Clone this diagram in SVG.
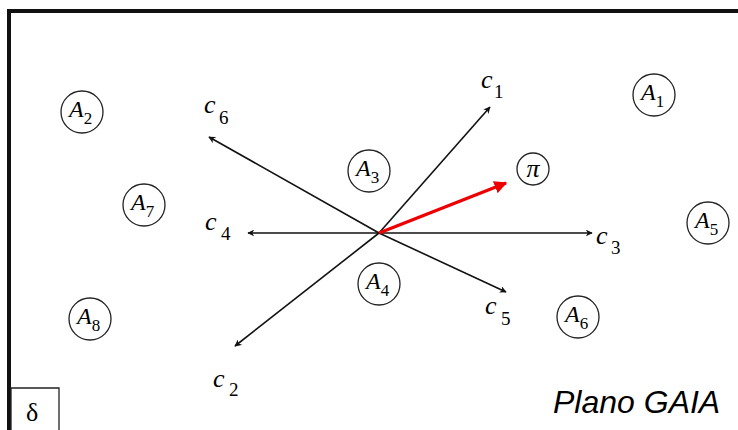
<svg xmlns="http://www.w3.org/2000/svg" width="738" height="430" viewBox="0 0 738 430">
<style>
.node circle{fill:#fff;stroke:#222;stroke-width:1.3}
.lbl{font-family:"Liberation Serif",serif;font-size:24px;fill:#000}
.lbl .m{font-style:italic}
.lbl .s{font-size:17px}
.cl{font-family:"Liberation Serif",serif;font-size:26px;fill:#000}
.cl .m{font-style:italic}
.cl .s{font-size:19px}
.ax{stroke:#111;stroke-width:1.6;fill:none;marker-end:url(#ah)}
</style>
<defs>
<marker id="ah" viewBox="0 0 10 10" refX="9" refY="5" markerWidth="7" markerHeight="7" markerUnits="userSpaceOnUse" orient="auto">
<path d="M0,0 L10,5 L0,10 L3,5 Z" fill="#111"/>
</marker>
<marker id="ahr" viewBox="0 0 10 10" refX="9" refY="5" markerWidth="4" markerHeight="4" orient="auto">
<path d="M0,0 L10,5 L0,10 Z" fill="#e00"/>
</marker>
</defs>
<rect x="0" y="0" width="738" height="430" fill="#fff"/>
<path d="M9,430 V11 H738" fill="none" stroke="#111" stroke-width="4"/>
<path d="M11,430 V388 H59 V430" fill="none" stroke="#222" stroke-width="1.3"/>
<text x="26" y="421" font-family="Liberation Serif,serif" font-size="26">δ</text>
<text x="553" y="413" font-family="Liberation Sans,Arial,sans-serif" font-size="32" font-style="italic">Plano GAIA</text>

<g id="connectors">
<line class="ax" x1="379" y1="233" x2="490" y2="107"/>
<line class="ax" x1="379" y1="233" x2="209" y2="137"/>
<line class="ax" x1="379" y1="233" x2="248" y2="233"/>
<line class="ax" x1="379" y1="233" x2="592" y2="233"/>
<line class="ax" x1="379" y1="233" x2="506" y2="292"/>
<line class="ax" x1="379" y1="233" x2="235" y2="346"/>
<line x1="379" y1="233" x2="506" y2="183" stroke="#e00" stroke-width="3.2" marker-end="url(#ahr)"/>
</g>

<g id="c1"><text class="cl" x="481" y="88"><tspan class="m">c</tspan><tspan class="s" x="494" y="98">1</tspan></text></g>
<g id="c6"><text class="cl" x="204" y="113"><tspan class="m">c</tspan><tspan class="s" x="219" y="124">6</tspan></text></g>
<g id="c4"><text class="cl" x="205" y="230"><tspan class="m">c</tspan><tspan class="s" x="221" y="240">4</tspan></text></g>
<g id="c3"><text class="cl" x="596" y="244"><tspan class="m">c</tspan><tspan class="s" x="611" y="254">3</tspan></text></g>
<g id="c5"><text class="cl" x="485" y="314"><tspan class="m">c</tspan><tspan class="s" x="501" y="325">5</tspan></text></g>
<g id="c2"><text class="cl" x="213" y="387"><tspan class="m">c</tspan><tspan class="s" x="229" y="396">2</tspan></text></g>

<g id="A1" class="node"><circle cx="654" cy="95" r="21"/><text class="lbl" x="641" y="100"><tspan class="m">A</tspan><tspan class="s" dy="7">1</tspan></text></g>
<g id="A2" class="node"><circle cx="82" cy="112" r="21"/><text class="lbl" x="69" y="117"><tspan class="m">A</tspan><tspan class="s" dy="7">2</tspan></text></g>
<g id="A3" class="node"><circle cx="369" cy="171" r="21"/><text class="lbl" x="356" y="176"><tspan class="m">A</tspan><tspan class="s" dy="7">3</tspan></text></g>
<g id="A4" class="node"><circle cx="379" cy="284" r="21"/><text class="lbl" x="366" y="289"><tspan class="m">A</tspan><tspan class="s" dy="7">4</tspan></text></g>
<g id="A5" class="node"><circle cx="708" cy="223" r="21"/><text class="lbl" x="695" y="228"><tspan class="m">A</tspan><tspan class="s" dy="7">5</tspan></text></g>
<g id="A6" class="node"><circle cx="578" cy="317" r="21"/><text class="lbl" x="565" y="322"><tspan class="m">A</tspan><tspan class="s" dy="7">6</tspan></text></g>
<g id="A7" class="node"><circle cx="144" cy="205" r="21"/><text class="lbl" x="131" y="210"><tspan class="m">A</tspan><tspan class="s" dy="7">7</tspan></text></g>
<g id="A8" class="node"><circle cx="90" cy="319" r="21"/><text class="lbl" x="77" y="324"><tspan class="m">A</tspan><tspan class="s" dy="7">8</tspan></text></g>
<g id="pi" class="node"><circle cx="533" cy="169" r="16"/><text x="533" y="177" text-anchor="middle" font-family="Liberation Serif,serif" font-size="26" font-style="italic">π</text></g>
</svg>
